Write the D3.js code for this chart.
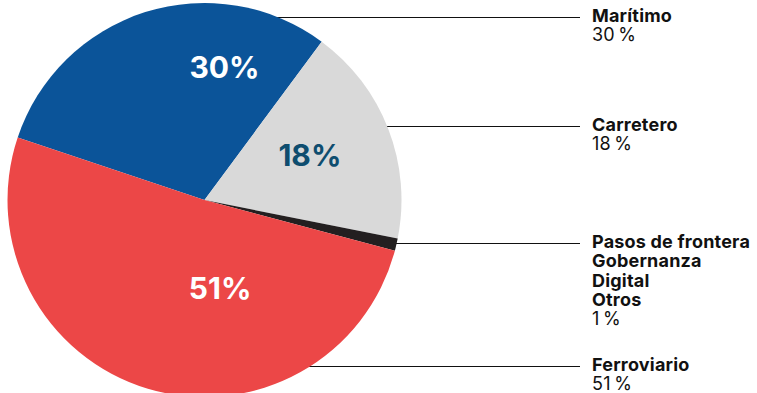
<!DOCTYPE html>
<html><head><meta charset="utf-8">
<script src="https://cdn.jsdelivr.net/npm/d3@7"></script>
<style>
html,body{margin:0;padding:0;background:#fff;}
svg{display:block;font-family:Inter,"Noto Sans",sans-serif;}
</style></head>
<body>
<svg id="chart" width="757" height="393"></svg>
<script>
// Data
const categories = ["Marítimo", "Carretero", "Otros", "Ferroviario"];
const values = [30, 18, 1, 51];
const labelTitles = [["Marítimo"], ["Carretero"], ["Pasos de frontera", "Gobernanza", "Digital", "Otros"], ["Ferroviario"]];
const valueLabels = ["30\u202F%", "18\u202F%", "1\u202F%", "51\u202F%"];
const sliceLabels = ["30%", "18%", "", "51%"];

// Layout / style
const W = 757, H = 393;
const cx = 204.5, cy = 200, R = 197;
const colors = {"Marítimo": "#0B5499", "Carretero": "#D9D9D9", "Otros": "#231F20", "Ferroviario": "#EC4747"};
const insideText = {"Marítimo": "#ffffff", "Carretero": "#0E4D6F", "Otros": "#fff", "Ferroviario": "#ffffff"};
const startDeg = -71.5;
const lineY = {"Marítimo": 17.5, "Carretero": 126.5, "Otros": 243.5, "Ferroviario": 366.5};
const labelPolar = {"Marítimo": [134, 8.6], "Carretero": [114.5, 67], "Ferroviario": [90, 170]};
const lineEndX = 580, textX = 592, lineH = 19.3;

const svg = d3.select("#chart");
const data = categories.map((c, i) => ({cat: c, value: values[i], i}));

const pie = d3.pie().sort(null).value(d => d.value)
  .startAngle(startDeg * Math.PI / 180)
  .endAngle((startDeg + 360) * Math.PI / 180);
const arcs = pie(data);
const arc = d3.arc().innerRadius(0).outerRadius(R);

// leader lines (behind pie)
const lines = svg.append("g");
data.forEach(d => {
  const y = lineY[d.cat];
  const dy = y - cy;
  const x0 = cx + Math.sqrt(Math.max(0, R * R - dy * dy)) - 2;
  lines.append("line").attr("x1", x0).attr("x2", lineEndX)
    .attr("y1", y).attr("y2", y)
    .attr("stroke", "#111").attr("stroke-width", 1);
});

const g = svg.append("g").attr("transform", `translate(${cx},${cy})`);
g.selectAll("path").data(arcs).join("path")
  .attr("d", arc)
  .attr("fill", d => colors[d.data.cat]);

// in-slice labels
g.selectAll("text.pct").data(arcs.filter(a => sliceLabels[a.data.i])).join("text")
  .attr("class", "pct")
  .attr("x", d => { const [r, a] = labelPolar[d.data.cat]; return r * Math.sin(a * Math.PI / 180); })
  .attr("y", d => { const [r, a] = labelPolar[d.data.cat]; return -r * Math.cos(a * Math.PI / 180); })
  .attr("dy", "0.36em")
  .attr("text-anchor", "middle")
  .attr("font-size", 30)
  .attr("font-weight", 700)
  .attr("fill", d => insideText[d.data.cat])
  .text(d => sliceLabels[d.data.i]);

// right labels
data.forEach(d => {
  const y0 = lineY[d.cat] + 4.5;
  const t = svg.append("text").attr("x", textX).attr("y", y0)
    .attr("font-size", 18).attr("letter-spacing", 0.2).attr("fill", "#111");
  labelTitles[d.i].forEach((s, k) => {
    t.append("tspan").attr("x", textX).attr("y", y0 + k * lineH)
      .attr("font-weight", 700).text(s);
  });
  t.append("tspan").attr("x", textX).attr("y", y0 + labelTitles[d.i].length * lineH)
    .attr("font-weight", 400).text(valueLabels[d.i]);
});
</script>
</body></html>
